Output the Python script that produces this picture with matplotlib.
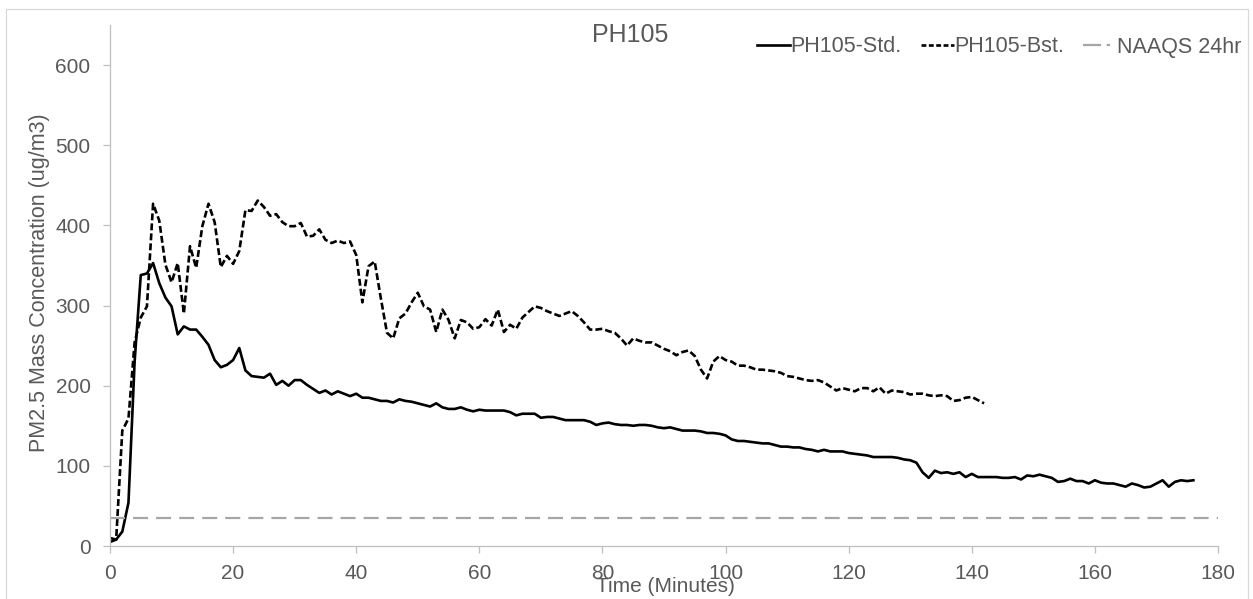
import matplotlib
matplotlib.use("Agg")
import matplotlib.pyplot as plt
from matplotlib.lines import Line2D
from matplotlib.patches import Rectangle

# ---------------- data ----------------
std_values = [
    5, 8, 18, 54, 230, 338, 340, 353, 328, 310,
    299, 264, 274, 270, 270, 261, 251, 232, 223, 226,
    232, 247, 219, 212, 211, 210, 215, 201, 206, 200,
    207, 207, 201, 196, 191, 194, 189, 193, 190, 187,
    190, 185, 185, 183, 181, 181, 179, 183, 181, 180,
    178, 176, 174, 178, 173, 171, 171, 173, 170, 168,
    170, 169, 169, 169, 169, 167, 163, 165, 165, 165,
    160, 161, 161, 159, 157, 157, 157, 157, 155, 151,
    153, 154, 152, 151, 151, 150, 151, 151, 150, 148,
    147, 148, 146, 144, 144, 144, 143, 141, 141, 140,
    138, 133, 131, 131, 130, 129, 128, 128, 126, 124,
    124, 123, 123, 121, 120, 118, 120, 118, 118, 118,
    116, 115, 114, 113, 111, 111, 111, 111, 110, 108,
    107, 104, 92, 85, 94, 91, 92, 90, 92, 86,
    90, 86, 86, 86, 86, 85, 85, 86, 83, 88,
    87, 89, 87, 85, 80, 81, 84, 81, 81, 78,
    82, 79, 78, 78, 76, 74, 78, 76, 73, 74,
    78, 82, 74, 80, 82, 81, 82,
]
std_time = list(range(len(std_values)))

bst_values = [
    10, 8, 144, 159, 254, 285, 299, 427, 406, 351,
    329, 353, 290, 374, 347, 399, 427, 404, 348, 362,
    352, 368, 419, 418, 431, 423, 412, 414, 404, 399,
    399, 403, 386, 387, 395, 382, 378, 381, 378, 380,
    363, 304, 349, 355, 309, 266, 259, 284, 290, 304,
    316, 299, 295, 267, 295, 282, 259, 282, 279, 271,
    273, 283, 275, 295, 267, 276, 271, 285, 292, 299,
    297, 293, 290, 287, 290, 293, 287, 279, 270, 270,
    271, 268, 266, 259, 250, 259, 256, 254, 254, 250,
    246, 243, 238, 242, 244, 237, 220, 209, 230, 237,
    232, 230, 225, 225, 223, 220, 220, 219, 218, 216,
    212, 211, 209, 207, 206, 207, 204, 199, 194, 197,
    195, 193, 197, 197, 193, 198, 190, 194, 193, 192,
    189, 190, 190, 188, 187, 188, 187, 181, 182, 185,
    186, 182, 178,
]
bst_time = list(range(len(bst_values)))

naaqs_time = [0, 180]
naaqs_values = [35, 35]

series_labels = ["PH105-Std.", "PH105-Bst.", "NAAQS 24hr"]
title_text = "PH105"
x_label = "Time (Minutes)"
y_label = "PM2.5 Mass Concentration (ug/m3)"
x_ticks = [0, 20, 40, 60, 80, 100, 120, 140, 160, 180]
y_ticks = [0, 100, 200, 300, 400, 500, 600]

# ---------------- style ----------------
plt.rcParams["font.family"] = ["Liberation Sans", "DejaVu Sans"]
plt.rcParams["lines.scale_dashes"] = False
TXT = "#595959"
AX = "#bfbfbf"

W, H = 1253, 599
fig = plt.figure(figsize=(W / 100, H / 100), dpi=100)
fig.patch.set_facecolor("white")

# chart-area border (bottom edge falls outside the image)
fig.patches.append(Rectangle((6 / W, -4 / H), (W - 11) / W, (H - 8.5 + 4) / H,
                             transform=fig.transFigure, fill=False,
                             edgecolor="#d9d9d9", linewidth=0.9))

AX_L, AX_R, AX_B, AX_T = 110, 1218, 546, 25
ax = fig.add_axes([AX_L / W, 1 - AX_B / H, (AX_R - AX_L) / W, (AX_B - AX_T) / H])

ax.plot(std_time, std_values, color="black", linewidth=1.9,
        solid_joinstyle="round", label=series_labels[0])
ax.plot(bst_time, bst_values, color="black", linewidth=1.9,
        dashes=(5.0, 2.2), label=series_labels[1])
ax.plot(naaqs_time, naaqs_values, color="#a6a6a6", linewidth=1.6,
        dashes=(10.8, 5.8), label=series_labels[2])

ax.set_xlim(0, 180)
ax.set_ylim(0, 650)
ax.set_xticks(x_ticks)
ax.set_yticks(y_ticks)

for s in ["top", "right"]:
    ax.spines[s].set_visible(False)
for s in ["left", "bottom"]:
    ax.spines[s].set_color(AX)
    ax.spines[s].set_linewidth(0.9)
ax.tick_params(axis="both", colors=AX, length=5, width=0.9,
               labelcolor=TXT, labelsize=15)
ax.tick_params(axis="x", pad=8)
ax.tick_params(axis="y", pad=9)

fig.text(630 / W, 1 - 35 / H, title_text, ha="center", va="center",
         fontsize=18, color=TXT)
fig.text(665 / W, 1 - 587 / H, x_label, ha="center", va="center",
         fontsize=15, color=TXT)
fig.text(40 / W, 1 - 283 / H, y_label, ha="center", va="center", rotation=90,
         fontsize=15.5, color=TXT)

handles = [
    Line2D([], [], color="black", linewidth=1.9),
    Line2D([], [], color="black", linewidth=1.9, dashes=(3.5, 1.8)),
    Line2D([], [], color="#a6a6a6", linewidth=1.6, dashes=(13.0, 4.0, 2.5, 10.0)),
]
leg = fig.legend(handles, series_labels, loc="center right",
                 bbox_to_anchor=(1241 / W, 1 - 47 / H), ncol=3, frameon=False,
                 fontsize=15.5, handlelength=1.55, handletextpad=0.0,
                 columnspacing=0.9, borderpad=0, borderaxespad=0)
for t in leg.get_texts():
    t.set_color(TXT)

fig.savefig("out.png", dpi=100, facecolor="white")
